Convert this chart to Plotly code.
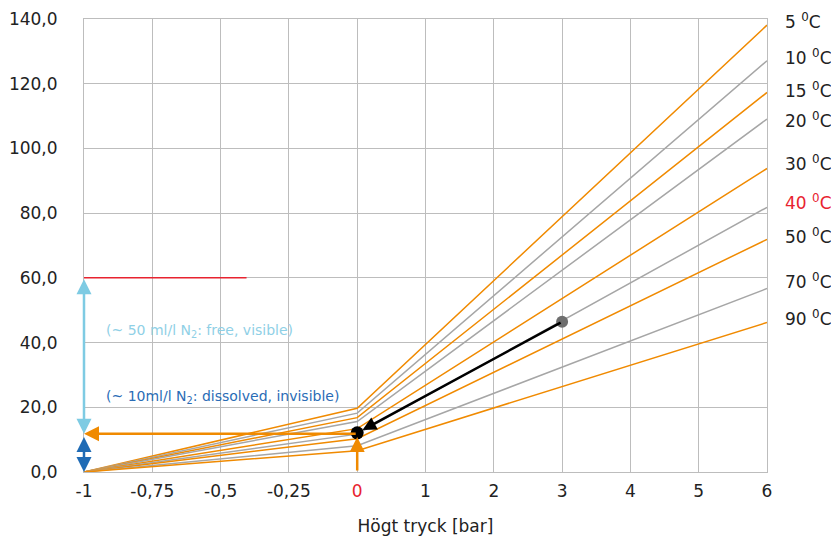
import plotly.graph_objects as go

# tick labels of the pressure axis (evenly spaced categories)
x_ticks = ['-1', '-0,75', '-0,5', '-0,25', '0', '1', '2', '3', '4', '5', '6']

# series
temps = ['5', '10', '15', '20', '30', '40', '50', '70', '90']
line_x = ['-1', '0', '6']
vals_at_0 = [19.7, 18.2, 16.8, 15.6, 13.4, 11.7, 10.3, 8.1, 6.6]
vals_at_6 = [138.1, 127.1, 117.3, 109.1, 93.8, 81.8, 71.9, 56.7, 46.2]
series_colors = ['#f08a00', '#a6a6a6'] * 5

# example path
start_pt = ('3', 46.4)
end_pt = ('0', 12.1)
free_level = 60.0
dissolved_level = 11.8
red_line_end = 2.38  # category index position

ORANGE = '#f08a00'
FONT = 'DejaVu Sans'


def xi(cat):
    return x_ticks.index(cat)


fig = go.Figure()

for i, t in enumerate(temps):
    fig.add_trace(go.Scatter(
        x=line_x, y=[0, vals_at_0[i], vals_at_6[i]], mode='lines',
        line=dict(color=series_colors[i], width=1.5), showlegend=False,
        hoverinfo='skip'))

# red level line
fig.add_shape(type='line', xref='x', yref='y', x0=xi('-1'), x1=red_line_end,
              y0=free_level, y1=free_level, line=dict(color='#e8232f', width=1.5))

anns = []


def arrow(x, y, ax, ay, color, width=2.5, both=False, standoff=0, size=1.2):
    d = dict(x=x, y=y, ax=ax, ay=ay, axref='x', ayref='y', xref='x', yref='y',
             showarrow=True, arrowhead=2, arrowsize=size, arrowwidth=width,
             arrowcolor=color, text='', standoff=standoff)
    if both:
        d['arrowside'] = 'end+start'
        d['startarrowhead'] = 2
        d['startarrowsize'] = size
    return d


# orange horizontal arrow
anns.append(arrow(xi('-1'), dissolved_level, xi('0'), dissolved_level, ORANGE))
# orange vertical arrow
anns.append(arrow(xi('0'), dissolved_level - 1.0, xi('0'), 0, ORANGE))
# light blue double arrow
anns.append(arrow(xi('-1'), dissolved_level, xi('-1'), free_level, '#7ecbe3', both=True))
# dark blue double arrow
anns.append(arrow(xi('-1'), 0, xi('-1'), dissolved_level - 0.5, '#1f6bb5', both=True))
# black arrow
anns.append(arrow(xi(end_pt[0]), end_pt[1], xi(start_pt[0]), start_pt[1], 'black',
                  standoff=6, size=1.1))

fig.add_trace(go.Scatter(x=[start_pt[0]], y=[start_pt[1]], mode='markers',
                         marker=dict(color='#6e6e6e', size=12), showlegend=False, hoverinfo='skip'))
fig.add_trace(go.Scatter(x=[end_pt[0]], y=[end_pt[1]], mode='markers',
                         marker=dict(color='black', size=13), showlegend=False, hoverinfo='skip'))

# texts
anns.append(dict(x=0.029, xref='paper', y=43.7, yref='y', xanchor='left', yanchor='middle',
                 showarrow=False, text='(~ 50 ml/l N<sub>2</sub>: free, visible)',
                 font=dict(family=FONT, size=14, color='#8fd0e6')))
anns.append(dict(x=0.029, xref='paper', y=23.2, yref='y', xanchor='left', yanchor='middle',
                 showarrow=False, text='(~ 10ml/l N<sub>2</sub>: dissolved, invisible)',
                 font=dict(family=FONT, size=14, color='#2a6cb6')))

# right-hand temperature labels
label_offsets = [1.3, 1.1, 0.7, -0.4, 1.7, 1.6, 1.0, 2.3, 1.3]
for i, t in enumerate(temps):
    col = '#e8232f' if t == '40' else '#222222'
    anns.append(dict(x=1.023, xref='paper', y=vals_at_6[i] + label_offsets[i], yref='y',
                     xanchor='left', yanchor='middle', showarrow=False,
                     text=f'{t} <sup>0</sup>C', font=dict(family=FONT, size=17, color=col)))

tick_text = [('<span style="color:#e8232f">0</span>' if t == '0' else t) for t in x_ticks]

# page body has an 8px default margin, so the figure is sized to fill the rest
fig.update_layout(
    width=831, height=528,
    margin=dict(l=76, r=72, t=11, b=64),
    plot_bgcolor='white', paper_bgcolor='white',
    separators=', ',
    font=dict(family=FONT, size=17, color='#222222'),
    annotations=anns,
    xaxis=dict(type='category', categoryarray=x_ticks, categoryorder='array',
               range=[0, 10], tickvals=x_ticks, ticktext=tick_text, automargin=False,
               showgrid=True, gridcolor='#bdbdbd', gridwidth=1,
               showline=True, linecolor='#bdbdbd', mirror=True, zeroline=False,
               ticks='', ticklabelstandoff=4, ticklabeloverflow='allow',
               title=dict(text='Högt tryck [bar]', font=dict(size=17), standoff=26)),
    yaxis=dict(range=[0, 140], tickvals=[0, 20, 40, 60, 80, 100, 120, 140], tickformat='.1f',
               automargin=False, ticklabeloverflow='allow',
               showgrid=True, gridcolor='#bdbdbd', gridwidth=1,
               showline=True, linecolor='#bdbdbd', mirror=True, zeroline=False,
               ticks='', ticklabelstandoff=22),
)

fig.write_html('out.html')
